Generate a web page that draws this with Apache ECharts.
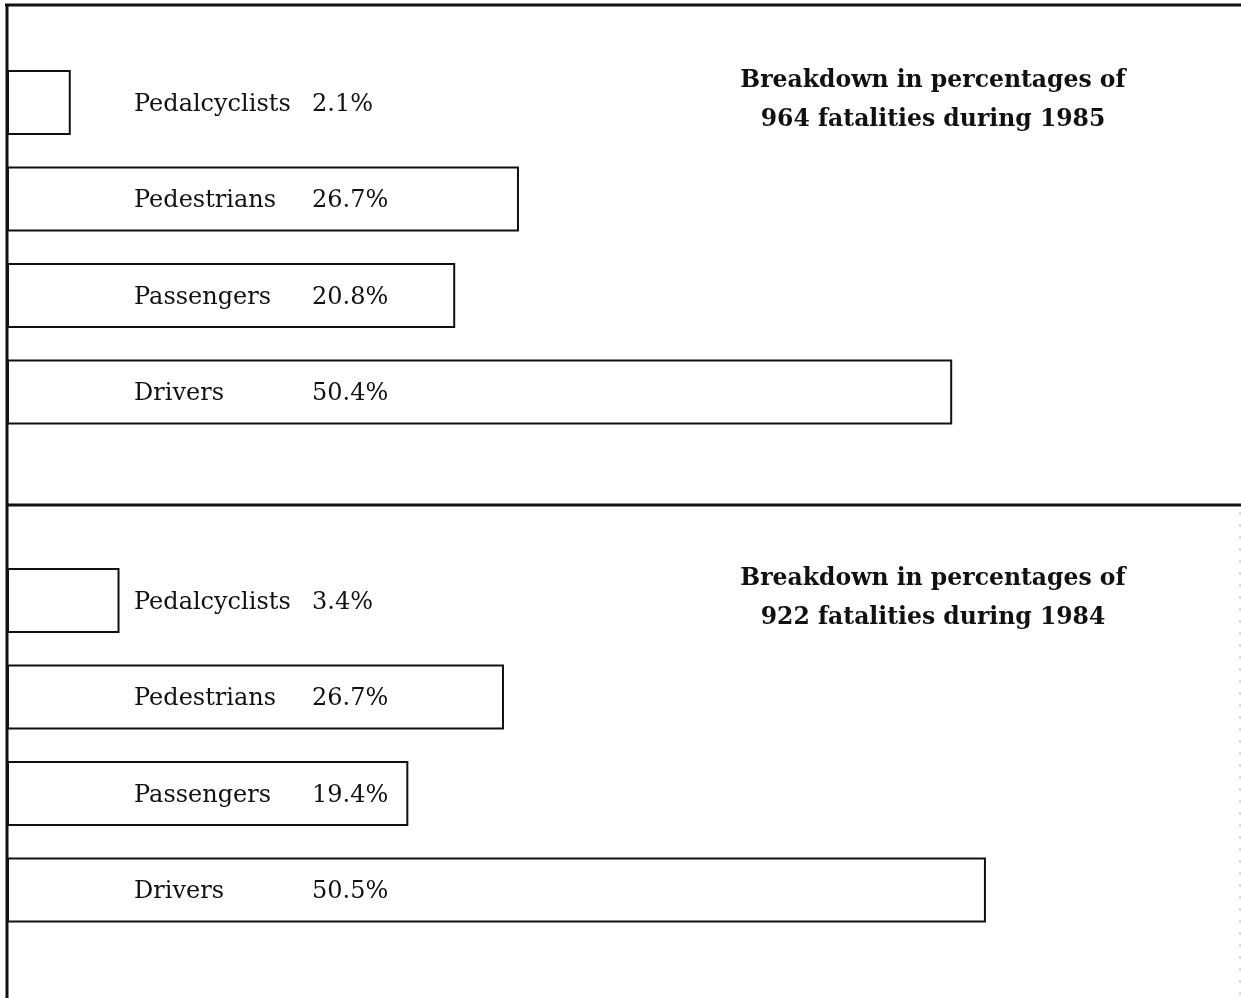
<!DOCTYPE html>
<html>
<head>
<meta charset="utf-8">
<script src="https://cdn.jsdelivr.net/npm/echarts@6/dist/echarts.min.js"></script>
<style>
html,body{margin:0;padding:0;background:#fff;}
#c{width:1241px;height:998px;}
</style>
</head>
<body>
<div id="c"></div>
<script>
// ---- data ----
const categories = ['Pedalcyclists', 'Pedestrians', 'Passengers', 'Drivers'];
const pct1985 = [2.1, 26.7, 20.8, 50.4];
const pct1984 = [3.4, 26.7, 19.4, 50.5];
// drawn bar lengths as they appear in the picture (not to scale with the percentages)
const barLen1985 = [3.4, 27.3, 23.9, 50.4];
const barLen1984 = [6.0, 26.5, 21.4, 52.2];
const title1985 = ['Breakdown in percentages of', '964 fatalities during 1985'];
const title1984 = ['Breakdown in percentages of', '922 fatalities during 1984'];

const chart = echarts.init(document.getElementById('c'), null, {renderer: 'canvas'});
const labelFont = '"DejaVu Serif", serif';
const titleFont = '"DejaVu Serif", serif';

function makeSeries(idx, lens, pcts) {
  return {
    type: 'bar',
    xAxisIndex: idx,
    yAxisIndex: idx,
    barWidth: 64,
    silent: true,
    data: lens.map((v, i) => ({value: v, pct: pcts[i]})),
    itemStyle: {color: '#fff', borderColor: '#111', borderWidth: 2},
    label: {
      show: true,
      position: [127, '50%'],
      offset: [0, 2],
      align: 'left',
      verticalAlign: 'middle',
      formatter: p => '{n|' + p.name + '}{v|' + p.data.pct + '%}',
      rich: {
        n: {width: 178, fontFamily: labelFont, fontSize: 24, color: '#111'},
        v: {fontFamily: labelFont, fontSize: 24, color: '#111'}
      }
    }
  };
}

const option = {
  backgroundColor: '#fff',
  animation: false,
  title: [
    {text: title1985.join('\n'), left: 928, top: 56, textAlign: 'center',
     textStyle: {fontFamily: titleFont, fontWeight: 'bold', fontSize: 23.5, lineHeight: 39, color: '#111'}},
    {text: title1984.join('\n'), left: 928, top: 554, textAlign: 'center',
     textStyle: {fontFamily: titleFont, fontWeight: 'bold', fontSize: 23.5, lineHeight: 39, color: '#111'}}
  ],
  grid: [
    {left: 7, width: 1234, top: 54.25, height: 386},
    {left: 7, width: 1234, top: 552.25, height: 386}
  ],
  xAxis: [
    {gridIndex: 0, type: 'value', min: 0, max: 65.8, show: false},
    {gridIndex: 1, type: 'value', min: 0, max: 65.8, show: false}
  ],
  yAxis: [
    {gridIndex: 0, type: 'category', data: categories, inverse: true, show: false},
    {gridIndex: 1, type: 'category', data: categories, inverse: true, show: false}
  ],
  series: [
    makeSeries(0, barLen1985, pct1985),
    makeSeries(1, barLen1984, pct1984)
  ],
  graphic: [
    {type: 'line', shape: {x1: 5, y1: 5, x2: 1241, y2: 5}, style: {stroke: '#111', lineWidth: 3}},
    {type: 'line', shape: {x1: 7, y1: 4, x2: 7, y2: 998}, style: {stroke: '#111', lineWidth: 3}},
    {type: 'line', shape: {x1: 7, y1: 505, x2: 1241, y2: 505}, style: {stroke: '#111', lineWidth: 3}},
    {type: 'line', shape: {x1: 1240, y1: 512, x2: 1240, y2: 998}, style: {stroke: '#bbb', lineWidth: 1, lineDash: [3, 9]}}
  ]
};
option.series.forEach(s => { s.barWidth = 65; });
chart.setOption(option);
</script>
</body>
</html>
